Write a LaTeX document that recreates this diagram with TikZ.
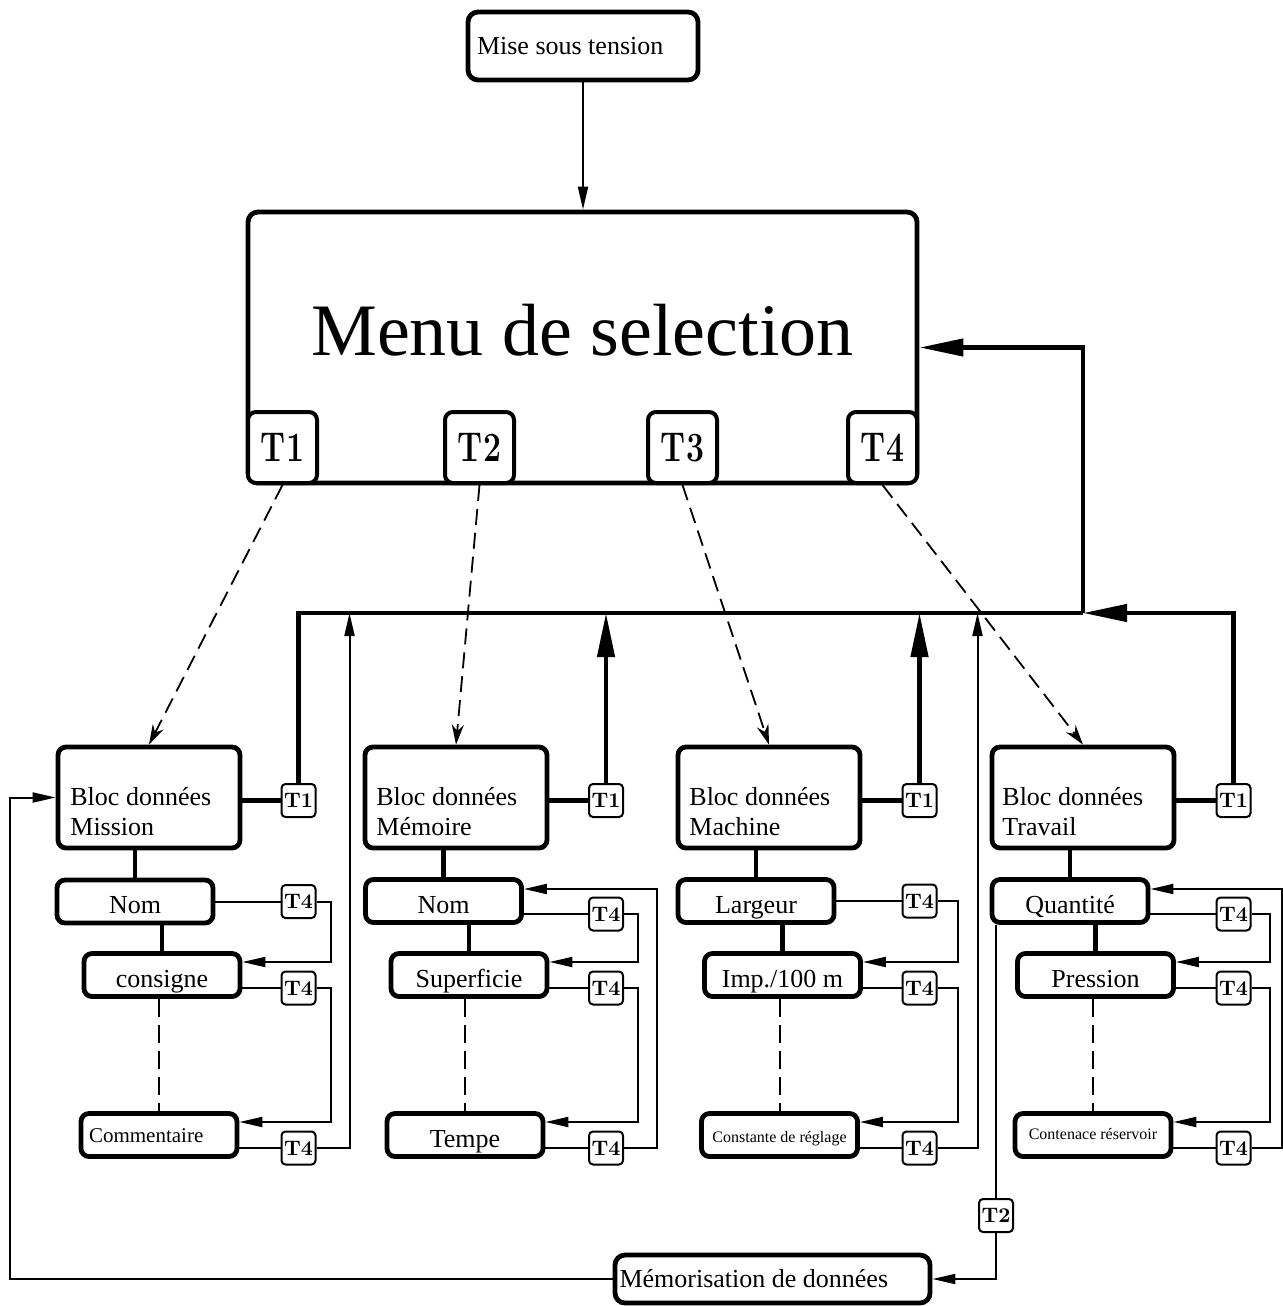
\documentclass[tikz,border=0pt]{standalone}
\usepackage{fontspec}
\newfontfamily\tnr{Liberation Serif}
\usetikzlibrary{arrows.meta}
\newcommand\txt[1]{\tnr\fontsize{#1}{#1}\selectfont}
\newcommand\tlab[1]{\scalebox{1}[1.3]{#1}}
\tikzset{
  menubox/.style={draw, line width=2.4pt, rounded corners=5pt, fill=white},
  blocbox/.style={draw, line width=2.4pt, rounded corners=4pt, fill=white, minimum width=91pt, minimum height=50.5pt},
  bloctext/.style={anchor=west, align=left, inner sep=0pt, font=\tnr\fontsize{13}{15}\selectfont},
  itembox/.style={draw, line width=2.4pt, rounded corners=4pt, fill=white, inner sep=0pt,
    minimum width=78pt, minimum height=21.5pt, text height=14pt, text depth=2pt, font=\txt{13}},
  smallitem/.style={itembox, text height=10pt, text depth=3pt},
  tbutton/.style={draw, line width=2pt, rounded corners=4pt, fill=white, inner sep=0pt,
    minimum width=34.5pt, minimum height=35.5pt, font=\fontsize{16}{16}\selectfont\bfseries},
  tkey/.style={draw, line width=1pt, rounded corners=2pt, fill=white, inner sep=0pt,
    minimum width=17pt, minimum height=16.5pt, font=\fontsize{10.5}{10.5}\selectfont\bfseries},
  wire/.style={line width=1pt},
  bus/.style={line width=2.2pt},
  thinarrow/.style={-{Triangle[length=11.5pt,width=5pt]}},
  bigarrow/.style={-{Triangle[length=22pt,width=8.5pt]}},
  choice/.style={line width=0.9pt, dash pattern=on 8pt off 4pt, -{Stealth[length=10pt,width=6pt]}},
  skipline/.style={line width=1pt, dash pattern=on 9pt off 4pt}
}

\begin{document}
\begin{tikzpicture}[x=0.5pt, y=-0.5pt]
  \useasboundingbox (0,0) rectangle (1282,1306);

  \node[menubox, minimum width=115pt, minimum height=34pt, font=\txt{13}] (mise) at (583,46)
    {\makebox[106pt][l]{Mise sous tension}};
  \node[menubox, minimum width=334.5pt, minimum height=135.5pt, text height=24.5pt, text depth=17pt,
    font=\txt{37}] (menu) at (582.5,347.5) {Menu de selection};
  \node[tbutton] (bT1) at (282.5,447.5) {\tlab{T1}};
  \node[tbutton] (bT2) at (479.5,447.5) {\tlab{T2}};
  \node[tbutton] (bT3) at (682.5,447.5) {\tlab{T3}};
  \node[tbutton] (bT4) at (882.5,447.5) {\tlab{T4}};
  \draw[wire, thinarrow] (mise.south) -- (mise.south |- menu.north);

  % Mission
  \node[blocbox] (blocMi) at (149,797.5) {};
  \node[bloctext] (txtMi) at (70,812) {Bloc données\\Mission};
  \node[tkey] (t1Mi) at (298.5,800.5) {T1};
  \node[itembox] (nomMi) at (135,901.5) {Nom};
  \node[itembox] (conMi) at (162,975) {consigne};
  \node[smallitem, font=\txt{10.5}] (comMi) at (159,1135) {\makebox[70pt][l]{Commentaire}};
  \node[tkey] (t4Mia) at (298.5,901.5) {T4};
  \node[tkey] (t4Mib) at (298.5,988) {T4};
  \node[tkey] (t4Mic) at (298.5,1148) {T4};

  % Memoire
  \node[blocbox] (blocMe) at (456,797.5) {};
  \node[bloctext] (txtMe) at (376,812) {Bloc données\\Mémoire};
  \node[tkey] (t1Me) at (606,800.5) {T1};
  \node[itembox] (nomMe) at (443.5,901) {Nom};
  \node[itembox] (supMe) at (469,975) {Superficie};
  \node[itembox] (tmpMe) at (465,1135) {Tempe};
  \node[tkey] (t4Mea) at (606,914) {T4};
  \node[tkey] (t4Meb) at (606,988) {T4};
  \node[tkey] (t4Mec) at (606,1148) {T4};

  % Machine
  \node[blocbox] (blocMa) at (769,797.5) {};
  \node[bloctext] (txtMa) at (689,812) {Bloc données\\Machine};
  \node[tkey] (t1Ma) at (919.5,800.5) {T1};
  \node[itembox] (larMa) at (756,901) {Largeur};
  \node[itembox] (impMa) at (782.5,975) {Imp./100 m};
  \node[smallitem, font=\txt{8}] (cstMa) at (779.5,1135) {Constante de réglage};
  \node[tkey] (t4Maa) at (919.5,901) {T4};
  \node[tkey] (t4Mab) at (919.5,988) {T4};
  \node[tkey] (t4Mac) at (919.5,1148) {T4};

  % Travail
  \node[blocbox] (blocTr) at (1083,797.5) {};
  \node[bloctext] (txtTr) at (1002,812) {Bloc données\\Travail};
  \node[tkey] (t1Tr) at (1233.5,800.5) {T1};
  \node[itembox] (quaTr) at (1070,901) {Quantité};
  \node[itembox] (preTr) at (1095.5,975) {Pression};
  \node[smallitem, text height=7pt, font=\txt{8}] (ctnTr) at (1093,1135) {Contenace réservoir};
  \node[tkey] (t4Tra) at (1233.5,914) {T4};
  \node[tkey] (t4Trb) at (1233.5,988) {T4};
  \node[tkey] (t4Trc) at (1233.5,1148) {T4};
  \node[tkey] (t2Tr) at (996,1215.5) {T2};

  \node[menubox, minimum width=157.5pt, minimum height=24pt, inner xsep=2pt, font=\txt{13}] (memo) at (772.5,1279)
    {\makebox[153pt][l]{Mémorisation de données}};

  \coordinate (busJ) at (1083,613);
  \draw[bus] (t1Mi.north) |- (busJ);
  \draw[bus, bigarrow] (t1Tr.north) |- (busJ);
  \draw[bus, bigarrow] (busJ) |- (menu.east);
  \draw[bus, bigarrow] (t1Me.north) -- (t1Me.north |- busJ);
  \draw[bus, bigarrow] (t1Ma.north) -- (t1Ma.north |- busJ);

  \draw[choice] (bT1.south) -- (blocMi.north);
  \draw[choice] (bT2.south) -- (blocMe.north);
  \draw[choice] (bT3.south) -- (blocMa.north);
  \draw[choice] (bT4.south) -- (blocTr.north);

  \foreach \b/\t/\n/\s/\e in {blocMi/t1Mi/nomMi/conMi/comMi, blocMe/t1Me/nomMe/supMe/tmpMe,
      blocMa/t1Ma/larMa/impMa/cstMa, blocTr/t1Tr/quaTr/preTr/ctnTr} {
    \draw[bus] (\b.east |- \t) -- (\t.west);
    \draw[bus] (\n.north |- \b.south) -- (\n.north);
    \draw[bus] (\s.north |- \n.south) -- (\s.north);
    \draw[skipline] (\e.north |- \s.south) -- (\e.north);
  }

  \draw[wire] (nomMi.east |- t4Mia) -- (t4Mia.west);
  \draw[wire, thinarrow] (t4Mia.east) -- ++(14,0) |- ([yshift=6.5pt]conMi.east);
  \draw[wire] ([yshift=-6.5pt]conMi.east) -- (t4Mib.west);
  \draw[wire, thinarrow] (t4Mib.east) -- ++(14,0) |- ([yshift=6.5pt]comMi.east);
  \draw[wire] ([yshift=-6.5pt]comMi.east) -- (t4Mic.west);
  \draw[wire, thinarrow] (t4Mic.east) -- ++(33,0) coordinate (upMi) -- (upMi |- busJ);

  \draw[wire] ([yshift=-6.5pt]nomMe.east) -- (t4Mea.west);
  \draw[wire, thinarrow] (t4Mea.east) -- ++(14,0) |- ([yshift=6.5pt]supMe.east);
  \draw[wire] ([yshift=-6.5pt]supMe.east) -- (t4Meb.west);
  \draw[wire, thinarrow] (t4Meb.east) -- ++(14,0) |- ([yshift=6.5pt]tmpMe.east);
  \draw[wire] ([yshift=-6.5pt]tmpMe.east) -- (t4Mec.west);
  \draw[wire, thinarrow] (t4Mec.east) -- ++(33,0) |- ([yshift=6pt]nomMe.east);

  \draw[wire] (larMa.east |- t4Maa) -- (t4Maa.west);
  \draw[wire, thinarrow] (t4Maa.east) -- ++(20,0) |- ([yshift=6.5pt]impMa.east);
  \draw[wire] ([yshift=-6.5pt]impMa.east) -- (t4Mab.west);
  \draw[wire, thinarrow] (t4Mab.east) -- ++(20,0) |- ([yshift=6.5pt]cstMa.east);
  \draw[wire] ([yshift=-6.5pt]cstMa.east) -- (t4Mac.west);
  \draw[wire, thinarrow] (t4Mac.east) -- ++(40,0) coordinate (upMa) -- (upMa |- busJ);

  \draw[wire] ([yshift=-6.5pt]quaTr.east) -- (t4Tra.west);
  \draw[wire, thinarrow] (t4Tra.east) -- ++(18,0) |- ([yshift=6.5pt]preTr.east);
  \draw[wire] ([yshift=-6.5pt]preTr.east) -- (t4Trb.west);
  \draw[wire, thinarrow] (t4Trb.east) -- ++(18,0) |- ([yshift=6.5pt]ctnTr.east);
  \draw[wire] ([yshift=-6.5pt]ctnTr.east) -- (t4Trc.west);
  \draw[wire, thinarrow] (t4Trc.east) -- ++(30,0) |- ([yshift=6pt]quaTr.east);

  \draw[wire] (t2Tr.north |- quaTr.south) -- (t2Tr.north);
  \draw[wire, thinarrow] (t2Tr.south) |- (memo.east);
  \draw[wire, thinarrow] (memo.west) -- ++(-603,0) |- (blocMi.west);
\end{tikzpicture}
\end{document}
